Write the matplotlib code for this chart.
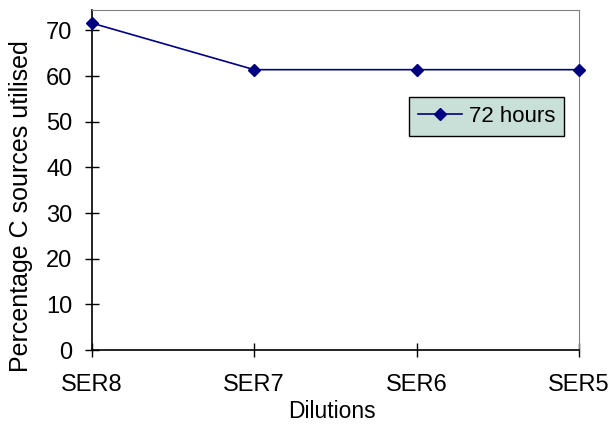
import matplotlib
matplotlib.use("Agg")
import matplotlib.pyplot as plt

plt.rcParams['font.family'] = ['Liberation Sans', 'DejaVu Sans']

# data
dilutions = ["SER8", "SER7", "SER6", "SER5"]
pct_72h = [71.6, 61.4, 61.4, 61.4]

fig = plt.figure(figsize=(6.16, 4.28), dpi=100)
ax = fig.add_axes([0.149, 0.182, 0.791, 0.795])

x = range(len(dilutions))
ax.plot(x, pct_72h, color='#000080', marker='D', markersize=6.5, linewidth=1.2,
        label='72 hours', clip_on=False, zorder=5)

ax.set_xlim(0, len(dilutions) - 1)
ax.set_ylim(0, 74.5)
ax.set_xticks(list(x))
ax.set_xticklabels(dilutions)
ax.set_yticks(range(0, 71, 10))
ax.tick_params(direction='inout', length=10, width=1)
ax.tick_params(axis='x', pad=12, labelsize=17)
ax.tick_params(axis='y', pad=9, labelsize=17)

ax.set_xlabel("Dilutions", fontsize=16.5)
ax.set_ylabel("Percentage C sources utilised", fontsize=18)
ax.xaxis.set_label_coords(0.492, -0.147)
ax.yaxis.set_label_coords(-0.121, 0.422)

for side in ['top', 'right']:
    ax.spines[side].set_color('#808080')
for side in ['left', 'bottom']:
    ax.spines[side].set_color('black')
    ax.spines[side].set_linewidth(1.2)

leg = ax.legend(loc='upper left', bbox_to_anchor=(0.651, 0.744), fontsize=16,
                frameon=True, fancybox=False, handlelength=2.0,
                borderpad=0.4, handletextpad=0.3, borderaxespad=0)
leg.get_frame().set_facecolor('#C8E0D8')
leg.get_frame().set_edgecolor('black')
leg.get_frame().set_alpha(1)

fig.savefig("out.png", dpi=100)
